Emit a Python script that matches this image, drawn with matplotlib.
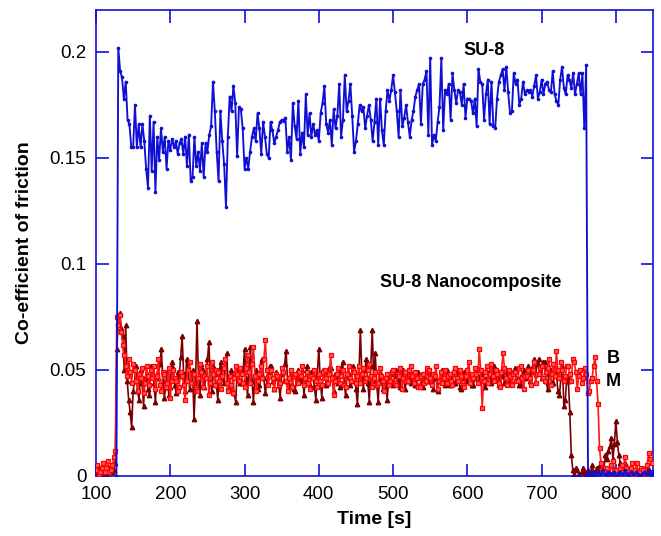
import numpy as np
import matplotlib
matplotlib.use('Agg')
import matplotlib.pyplot as plt
from matplotlib.ticker import FuncFormatter, FixedLocator

plt.rcParams['font.family'] = ['Liberation Sans', 'DejaVu Sans']

# ---------------- data ----------------
# SU-8 (blue), sampled every 2.5 s starting at 127.5 s
su8_t0, su8_dt = 127.5, 2.5
su8_cof = [
    0.000,
    0.202, 0.191, 0.188, 0.178, 0.186, 0.168, 0.166, 0.155, 0.155, 0.175,
    0.155, 0.166, 0.155, 0.166, 0.158, 0.145, 0.136, 0.170, 0.144, 0.167,
    0.134, 0.160, 0.149, 0.164, 0.153, 0.160, 0.145, 0.158, 0.154, 0.159,
    0.155, 0.158, 0.152, 0.157, 0.159, 0.152, 0.160, 0.146, 0.161, 0.139,
    0.141, 0.160, 0.146, 0.153, 0.144, 0.157, 0.141, 0.157, 0.153, 0.161,
    0.165, 0.186, 0.172, 0.153, 0.139, 0.172, 0.158, 0.147, 0.127, 0.160,
    0.179, 0.172, 0.184, 0.176, 0.151, 0.174, 0.173, 0.164, 0.145, 0.150,
    0.145, 0.153, 0.160, 0.164, 0.158, 0.171, 0.164, 0.152, 0.167, 0.160,
    0.152, 0.150, 0.167, 0.163, 0.157, 0.160, 0.163, 0.167, 0.168,
    0.1675, 0.169, 0.153, 0.160, 0.149, 0.176, 0.165, 0.159, 0.177, 0.152,
    0.162, 0.155, 0.180, 0.161, 0.171, 0.160, 0.166, 0.161, 0.163, 0.158,
    0.171, 0.176, 0.184, 0.166, 0.162, 0.168, 0.156, 0.173, 0.164, 0.170,
    0.185, 0.160, 0.168, 0.189, 0.172, 0.177, 0.185, 0.170, 0.153, 0.158,
    0.166, 0.175, 0.172, 0.174, 0.164, 0.170, 0.175, 0.168, 0.158, 0.167,
    0.178, 0.156, 0.178, 0.163, 0.156, 0.172, 0.182, 0.177, 0.182, 0.189,
    0.181, 0.172, 0.160, 0.182, 0.165, 0.169, 0.175, 0.167, 0.160, 0.168,
    0.172, 0.179, 0.182, 0.185, 0.166, 0.185, 0.187, 0.191, 0.161, 0.197,
    0.156, 0.161, 0.158, 0.167, 0.174, 0.197, 0.163, 0.182, 0.180, 0.185,
    0.168, 0.190, 0.182, 0.176, 0.182, 0.181, 0.175, 0.185, 0.169, 0.178,
    0.178, 0.177, 0.171, 0.178, 0.165, 0.192, 0.186, 0.185, 0.168, 0.180,
    0.187, 0.166, 0.186, 0.165, 0.164, 0.178, 0.186, 0.189, 0.192, 0.182,
    0.193, 0.181, 0.171, 0.172, 0.190, 0.185, 0.187, 0.175, 0.178, 0.186,
    0.180, 0.182, 0.181, 0.182, 0.179, 0.184, 0.189, 0.178, 0.181, 0.187,
    0.180, 0.185, 0.186, 0.182, 0.181, 0.191, 0.180, 0.177, 0.175, 0.187,
    0.193, 0.183, 0.180, 0.189, 0.187, 0.183, 0.190, 0.180, 0.185, 0.190,
    0.180, 0.190,
    0.164, 0.194, 0.000,
    0.001, 0.002, 0.001, 0.000, 0.002, 0.001, 0.001, 0.003, 0.001, 0.000,
    0.002, 0.001, 0.001, 0.002, 0.000, 0.001, 0.002, 0.001, 0.001, 0.003,
    0.001, 0.000, 0.002, 0.001, 0.001, 0.002, 0.001, 0.000, 0.001, 0.002,
    0.001, 0.001, 0.003, 0.001, 0.002,
]

# SU-8 nanocomposite, sampled every 2 s starting at 100 s
nano_t0, nano_dt = 100, 2
nano_M = [   # bright red, squares
    .003, .005, .001, .002, .004, .006, .002, .004, .007, .002, .003, .005, .009, .012,
    .075, .071, .076, .068,
    .062, .057, .052, .047, .055, .049, .044, .053, .050, .045, .040, .048, .046, .051, .039, .044, .052, .047, .043, .050,
    .046, .052, .041, .047, .055, .043, .040, .049, .048, .042, .044, .051, .037, .045, .050, .046, .045, .040, .042, .049,
    .047, .043, .036, .045, .050, .054, .044, .048, .048, .041, .040, .046, .053, .049, .042, .047, .046, .052, .038, .044,
    .054, .048, .043, .050, .049, .045, .041, .047, .051, .055, .044, .040, .047, .043, .039, .046, .052, .048, .045, .051,
    .048, .044, .042, .051, .057, .049, .044, .053, .061, .047, .040, .045, .048, .052, .046, .055, .064, .050, .043, .047,
    .050, .046, .041, .048, .047, .043, .044, .051, .049, .045, .045, .040, .046, .050, .042, .047, .048, .044, .044, .049,
    .047, .052, .043, .046, .049, .044, .041, .047, .046, .050, .045, .042, .048, .045, .043, .049, .050, .046, .044, .048,
    .057, .046, .038, .045, .048, .051, .044, .047, .050, .043, .042, .048, .052, .046, .045, .050, .049, .044, .047, .052,
    .044, .048, .051, .045, .046, .050, .053, .047, .042, .046, .049, .043, .044, .051, .047, .045, .040, .046, .048, .043,
    .045, .049, .050, .044, .043, .048, .047, .051, .041, .046, .049, .045, .045, .050, .052, .047, .044, .049, .046, .042,
    .042, .047, .048, .044, .045, .051, .050, .046, .043, .048, .047, .052, .041, .045, .049, .044, .046, .050, .044, .047,
    .048, .045, .043, .049, .051, .046, .045, .050, .047, .043, .042, .047, .050, .054, .044, .048, .046, .051, .048, .044,
    .060, .050, .032, .045, .049, .052, .044, .048, .053, .047, .045, .050, .048, .044, .042, .049, .058, .051, .046, .043,
    .050, .047, .043, .048, .049, .045, .045, .051, .052, .046, .041, .047, .047, .050, .046, .043, .050, .054, .044, .048,
    .048, .051, .052, .046, .045, .049, .051, .055, .043, .048, .053, .047, .059, .050, .046, .054, .050, .045, .047, .052,
    .052, .048, .045, .055, .054, .049, .041, .047, .050, .044, .046, .051, .048, .039, .040, .045, .046, .052,
    .056, .045, .034, .013,
    .006, .003, .002, .004, .004, .001, .001, .005, .007, .003, .003, .001, .001, .004, .005, .002, .009, .004,
    .002, .001, .004, .006, .001, .003, .006, .002, .002, .004, .003, .001, .001, .005, .011, .008, .006,
]
nano_B = [   # dark red, triangles
    .002, .003, .004, .002, .001, .003, .003, .001, .002, .004, .005, .002, .003, .006,
    .060, .072, .077, .070,
    .066, .050, .071, .045, .036, .030, .023, .040, .045, .052, .040, .036, .050, .044, .033, .046, .048, .041, .038, .052,
    .050, .044, .035, .048, .046, .053, .060, .045, .037, .042, .049, .038, .042, .054, .051, .043, .039, .049, .047, .056,
    .066, .048, .040, .055, .052, .041, .045, .050, .027, .044, .073, .046, .038, .053, .050, .042, .047, .055, .063, .045,
    .040, .052, .048, .043, .036, .049, .054, .046, .044, .051, .058, .042, .041, .050, .047, .039, .035, .048, .051, .044,
    .044, .049, .060, .046, .038, .052, .061, .045, .035, .047, .050, .041, .043, .053, .055, .046, .039, .044, .048, .052,
    .052, .045, .041, .049, .046, .043, .037, .048, .049, .053, .059, .044, .042, .050, .047, .041, .040, .046, .050, .045,
    .045, .050, .038, .046, .052, .044, .043, .049, .047, .042, .036, .048, .060, .045, .037, .050, .049, .043, .044, .051,
    .051, .046, .040, .048, .047, .044, .042, .050, .054, .045, .038, .047, .048, .043, .045, .052, .050, .041, .034, .048,
    .069, .047, .041, .050, .055, .044, .035, .052, .069, .045, .058, .043, .035, .049, .046, .041, .042, .047, .036, .045,
    .048, .044, .043, .047, .050, .046, .045, .042, .047, .050, .041, .045, .049, .046, .044, .048, .046, .043, .043, .049,
    .047, .044, .042, .046, .049, .045, .045, .048, .044, .041, .048, .046, .040, .045, .047, .050, .045, .043, .050, .046,
    .043, .047, .048, .044, .044, .049, .046, .042, .041, .046, .049, .045, .045, .048, .047, .043, .043, .046, .048, .051,
    .045, .048, .050, .046, .042, .045, .047, .050, .044, .048, .052, .047, .046, .043, .043, .047, .049, .044, .045, .049,
    .048, .045, .044, .049, .051, .046, .046, .043, .043, .048, .050, .046, .047, .052, .045, .049, .052, .055, .048, .053,
    .055, .049, .046, .054, .054, .045, .041, .048, .050, .044, .044, .051, .048, .040, .038, .046, .052, .033, .036, .047,
    .045, .030, .010, .003, .001, .004, .003, .001, .000, .002, .004, .002, .001, .003, .002, .001, .005, .002, .001, .004,
    .003, .005, .006, .003, .004, .010, .008, .012, .014, .018, .008, .015, .026, .016, .010, .006, .004, .003, .006, .004,
    .002, .001, .004, .002, .001, .003, .003, .001, .002, .004, .004, .002, .001, .003, .003, .001, .002,
]

x_ticks = [100, 200, 300, 400, 500, 600, 700, 800]
y_ticks = [0, 0.05, 0.1, 0.15, 0.2]

# ---------------- plot ----------------
t_su8 = su8_t0 + su8_dt * np.arange(len(su8_cof))
t_nano_M = nano_t0 + nano_dt * np.arange(len(nano_M))
t_nano_B = nano_t0 + nano_dt * np.arange(len(nano_B))

fig = plt.figure(figsize=(6.61, 5.36), dpi=100)
ax = fig.add_axes([96/661, 60/536, 557/661, 466/536])

blue = '#1010d4'
ax.plot(t_nano_B, nano_B, color='#7a0000', lw=1.2, marker='^', ms=3.2,
        mfc='#7a0000', mec='#7a0000', zorder=2)
ax.plot(t_nano_M, nano_M, color='#ff1a1a', lw=1.2, marker='s', ms=3.2,
        mfc='#ff5a5a', mec='#ff0000', mew=0.9, zorder=3)
ax.plot(t_su8, su8_cof, color=blue, lw=1.35, marker='o', ms=1.6,
        mfc=blue, mec=blue, zorder=4)

ax.set_xlim(100, 850)
ax.set_ylim(0, 0.2198)
ax.xaxis.set_major_locator(FixedLocator(x_ticks))
ax.yaxis.set_major_locator(FixedLocator(y_ticks))
ax.yaxis.set_major_formatter(FuncFormatter(lambda v, p: '%g' % v))

for s in ax.spines.values():
    s.set_color(blue)
    s.set_linewidth(1.2)
ax.tick_params(axis='both', which='major', direction='in', length=9,
               width=1.2, color=blue, labelsize=13.5, labelcolor='black',
               top=True, right=True)
ax.tick_params(axis='x', pad=7)
ax.tick_params(axis='y', pad=7)

ax.set_xlabel('Time [s]', fontsize=14, fontweight='bold', labelpad=6)
ax.set_ylabel('Co-efficient of friction', fontsize=14, fontweight='bold',
              labelpad=12)

ax.text(622, 0.2006, 'SU-8', fontsize=13, fontweight='bold',
        ha='center', va='center')
ax.text(604, 0.0912, 'SU-8 Nanocomposite', fontsize=13, fontweight='bold',
        ha='center', va='center')
ax.text(796, 0.0555, 'B', fontsize=13, fontweight='bold',
        ha='center', va='center')
ax.text(796, 0.0447, 'M', fontsize=13, fontweight='bold',
        ha='center', va='center')

fig.savefig('out.png', dpi=100)
